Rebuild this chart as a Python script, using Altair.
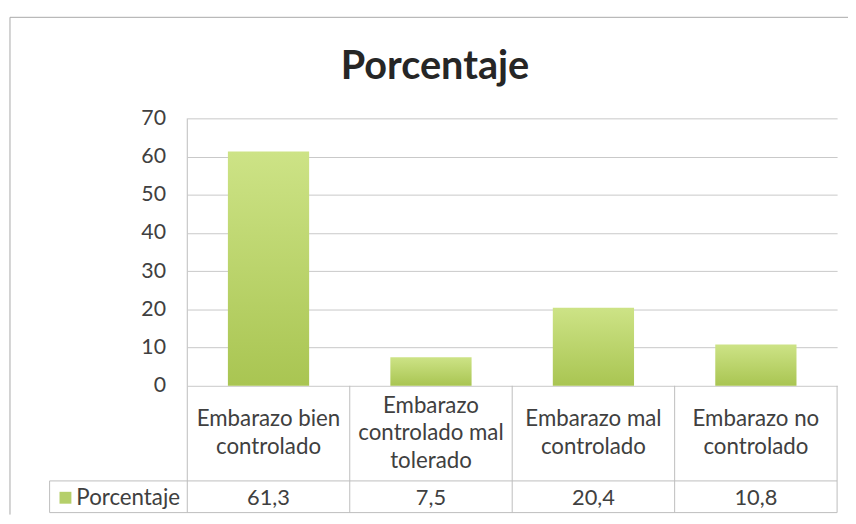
import altair as alt
import pandas as pd

# ---- data ----
categories = [
    "Embarazo bien controlado",
    "Embarazo controlado mal tolerado",
    "Embarazo mal controlado",
    "Embarazo no controlado",
]
header_lines = [
    "Embarazo bien\ncontrolado",
    "Embarazo\ncontrolado mal\ntolerado",
    "Embarazo mal\ncontrolado",
    "Embarazo no\ncontrolado",
]
values = [61.3, 7.5, 20.4, 10.8]
value_labels = ["61,3", "7,5", "20,4", "10,8"]
series_name = "Porcentaje"
y_ticks = [0, 10, 20, 30, 40, 50, 60, 70]

W, H = 656, 270
ROW1 = 366   # bottom of header row
ROW2 = 398   # bottom of value row
LEFTCOL = -139
LH = 28      # header line height
FONT = "Lato"
TXT = "#404040"
LINE = "#bdbdbd"

df = pd.DataFrame({"cat": categories, "header": header_lines,
                   "val": values, "lab": value_labels})
df["nl"] = df["header"].str.count("\n") + 1
df["ytop"] = 325 - (df["nl"] - 1) * LH / 2
one = pd.DataFrame({"a": [0]})

xscale = alt.Scale(domain=categories, paddingInner=0, paddingOuter=0)
xenc = alt.X("cat:N", sort=categories, scale=xscale, axis=None)

grad = alt.LinearGradient(
    gradient="linear",
    stops=[alt.GradientStop(color="#cde386", offset=0),
           alt.GradientStop(color="#a9c552", offset=1)],
    x1=0, x2=0, y1=0, y2=1,
)

bars = alt.Chart(df).mark_bar(width=alt.RelativeBandSize(0.5), color=grad).encode(
    x=xenc,
    y=alt.Y("val:Q", scale=alt.Scale(domain=[0, 70]),
            axis=alt.Axis(values=y_ticks, grid=True, gridColor="#c8c8c8",
                          ticks=False, domain=False, labelPadding=22,
                          labelFontSize=21.5, labelColor=TXT, labelFont=FONT,
                          title=None)),
)

# table vertical separators (right edge of each category band)
seps = alt.Chart(df).mark_rule(color=LINE).encode(
    x=alt.X("cat:N", sort=categories, scale=xscale, axis=None, bandPosition=1),
    y=alt.value(H), y2=alt.value(ROW2),
)

def rule(x, x2, y, y2, color=LINE):
    return alt.Chart(one).mark_rule(color=color).encode(
        x=alt.value(x), x2=alt.value(x2), y=alt.value(y), y2=alt.value(y2))

lines = [
    rule(0, 0, 0, ROW2),                 # plot left border / table
    rule(LEFTCOL, W, ROW1, ROW1),        # header bottom
    rule(LEFTCOL, W, ROW2, ROW2),        # table bottom
    rule(LEFTCOL, LEFTCOL, ROW1, ROW2),  # left column border
    rule(-179, 667, -102, -102, "#a8a8a8"),  # chart outer border top
    rule(-179, -179, -102, 400, "#a8a8a8"),  # chart outer border left
]

title = alt.Chart(one).mark_text(
    text=series_name, font=FONT, fontSize=40, fontWeight="bold",
    color="#262626", align="center", baseline="alphabetic",
).encode(x=alt.value(250), y=alt.value(-40))

headers = alt.Chart(df).mark_text(
    lineBreak="\n", lineHeight=LH, fontSize=22.5, font=FONT, color=TXT,
    baseline="alphabetic", align="center",
).encode(x=xenc, y=alt.Y("ytop:Q", scale=None), text="header:N")

vals = alt.Chart(df).mark_text(
    fontSize=22, font=FONT, color=TXT, baseline="alphabetic", align="center",
).encode(x=xenc, y=alt.value(390), text="lab:N")

legend_lab = alt.Chart(one).mark_text(
    text=series_name, fontSize=22.5, font=FONT, color=TXT,
    baseline="alphabetic", align="left",
).encode(x=alt.value(-112), y=alt.value(390))

legend_key = alt.Chart(one).mark_square(
    size=144, color="#b5cf6a", opacity=1, filled=True,
).encode(x=alt.value(-123), y=alt.value(383))

chart = alt.layer(bars, seps, *lines, title, headers, vals, legend_lab, legend_key).properties(
    width=W, height=H, autosize="none",
    padding={"left": 181, "top": 109, "right": 11, "bottom": 128},
    background="white",
).configure_view(stroke=None)

chart.save("out.html", embed_options={"renderer": "svg", "actions": False})
